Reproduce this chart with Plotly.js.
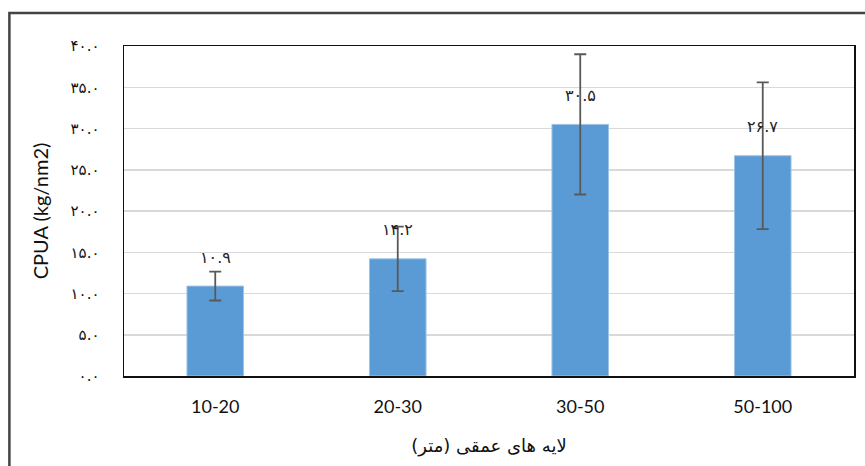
<!DOCTYPE html>
<html>
<head>
<meta charset="utf-8">
<script src="https://cdn.plot.ly/plotly-3.0.1.min.js"></script>
<style>html,body{margin:0;padding:0;background:#fff;}#chart{width:865px;height:466px;}</style>
</head>
<body>
<div id="chart"></div>
<script>
const categories = ['10-20', '20-30', '30-50', '50-100'];
const cpua = [10.9, 14.2, 30.5, 26.7];
const errors = [1.75, 3.9, 8.5, 8.9];
const yTicks = [0, 5, 10, 15, 20, 25, 30, 35, 40];
const xTitle = 'لایه های عمقی (متر)';
const yTitle = 'CPUA (kg/nm2)';

function fa(s) {
  const d = '۰۱۲۳۴۵۶۷۸۹';
  return String(s).replace(/[0-9]/g, c => d[+c]);
}

const trace = {
  type: 'bar',
  x: categories,
  y: cpua,
  marker: {color: '#5b9bd5', line: {color: '#9dc3e6', width: 1}},
  error_y: {type: 'data', array: errors, visible: true, color: '#595959', thickness: 1.8, width: 6},
  hoverinfo: 'none'
};

const annotations = categories.map((c, i) => ({
  x: c, y: cpua[i], xref: 'x', yref: 'y',
  text: fa(cpua[i].toFixed(1)), showarrow: false, yshift: 29,
  font: {family: 'DejaVu Sans, sans-serif', size: 16, color: '#222'}
}));

const layout = {
  width: 865, height: 466,
  margin: {l: 124, r: 11, t: 46, b: 90},
  paper_bgcolor: '#fff', plot_bgcolor: '#fff',
  showlegend: false,
  bargap: 0.69,
  font: {family: 'Lato, Liberation Sans, sans-serif', color: '#111'},
  xaxis: {
    type: 'category',
    showgrid: false, zeroline: false,
    showline: true, linecolor: '#111', linewidth: 1.5, mirror: true,
    ticks: '', ticklabelstandoff: 14,
    tickfont: {size: 18, family: 'Lato, sans-serif', color: '#111'},
    title: {text: xTitle, font: {size: 18, family: 'DejaVu Sans, sans-serif', color: '#111'}, standoff: 23}
  },
  yaxis: {
    range: [0, 40],
    tickvals: yTicks,
    ticktext: yTicks.map(v => fa(v.toFixed(1))),
    tickfont: {size: 15, family: 'DejaVu Sans, sans-serif', color: '#111'},
    ticklabelstandoff: 20,
    showgrid: true, gridcolor: '#d9d9d9', gridwidth: 1.5,
    zeroline: false,
    showline: true, linecolor: '#111', linewidth: 1.5, mirror: true,
    ticks: '',
    title: {text: yTitle, font: {size: 20, family: 'Lato, sans-serif', color: '#111'}, standoff: 16}
  },
  annotations: annotations,
  shapes: [{
    type: 'rect', xref: 'paper', yref: 'paper',
    x0: -0.157, x1: 1.05, y0: -0.35, y1: 1.1,
    line: {color: '#444', width: 2.5}, layer: 'below'
  }]
};

Plotly.newPlot('chart', [trace], layout, {displayModeBar: false, staticPlot: true});
</script>
</body>
</html>
